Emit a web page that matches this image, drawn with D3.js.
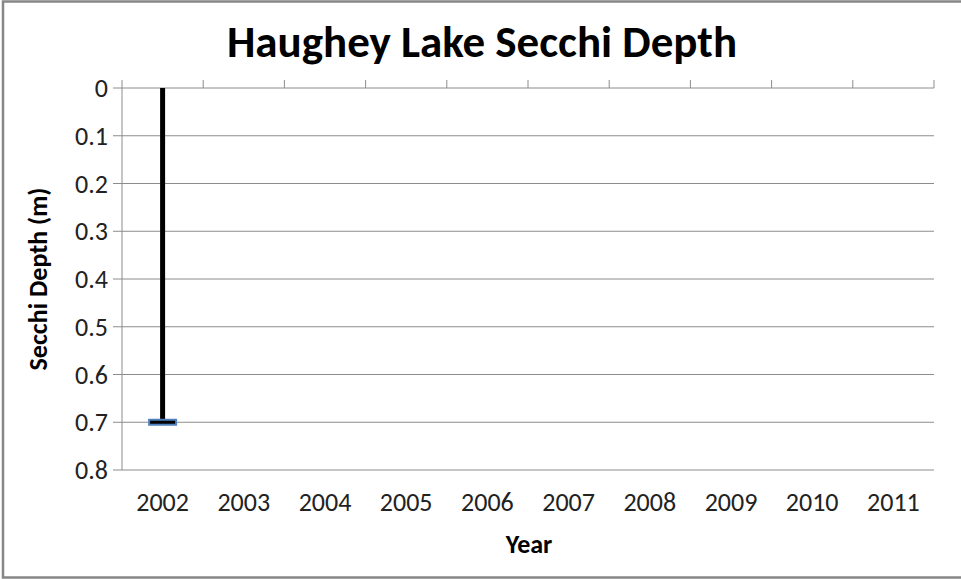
<!DOCTYPE html>
<html>
<head>
<meta charset="utf-8">
<script src="https://cdn.jsdelivr.net/npm/d3@7"></script>
<style>
  body { margin: 0; background: #fff; }
  text { font-family: Carlito, Calibri, Lato, "Open Sans", sans-serif; }
</style>
</head>
<body>
<div id="chart"></div>
<script>
const years = ['2002', '2003', '2004', '2005', '2006', '2007', '2008', '2009', '2010', '2011'];
const depthYears = ['2002'];
const depthValues = [0.7];
const yTicks = [0, 0.1, 0.2, 0.3, 0.4, 0.5, 0.6, 0.7, 0.8];

const W = 961, H = 579;
const margin = {top: 88, right: 27, bottom: 109, left: 122},
      width = W - margin.left - margin.right,
      height = H - margin.top - margin.bottom;

const svg = d3.select('#chart').append('svg')
    .attr('width', W)
    .attr('height', H);

// outer frame
svg.append('rect')
    .attr('x', 3).attr('y', 1.5)
    .attr('width', W + 10).attr('height', H - 3)
    .attr('fill', 'none')
    .attr('stroke', '#878787')
    .attr('stroke-width', 2.5);

svg.append('text')
    .attr('x', 482).attr('y', 57)
    .attr('text-anchor', 'middle')
    .style('font-size', '45px')
    .style('font-weight', 'bold')
    .text('Haughey Lake Secchi Depth');

const g = svg.append('g')
    .attr('transform', `translate(${margin.left}, ${margin.top})`);

const xScale = d3.scaleBand().domain(years).range([0, width]);
const yScale = d3.scaleLinear().domain([0, 0.8]).range([0, height]);

// gridlines
g.append('g')
    .selectAll('line')
    .data(yTicks)
    .join('line')
    .attr('x1', -9).attr('x2', width)
    .attr('y1', d => yScale(d)).attr('y2', d => yScale(d))
    .attr('stroke', '#8c8c8c')
    .attr('stroke-width', 1);

// y axis line
g.append('line')
    .attr('x1', 0).attr('x2', 0)
    .attr('y1', 0).attr('y2', height)
    .attr('stroke', '#8c8c8c');

// category ticks on the 0 line (pointing up)
const tickPos = years.map(d => xScale(d)).concat([width]);
g.append('g')
    .selectAll('line')
    .data(tickPos)
    .join('line')
    .attr('x1', d => d).attr('x2', d => d)
    .attr('y1', -8).attr('y2', 0)
    .attr('stroke', '#8c8c8c');

// y tick labels
g.append('g')
    .selectAll('text')
    .data(yTicks)
    .join('text')
    .attr('x', -14)
    .attr('y', d => yScale(d))
    .attr('dy', '0.35em')
    .attr('text-anchor', 'end')
    .style('font-size', '26px')
    .attr('fill', '#222')
    .text(d => d);

// x tick labels
g.append('g')
    .selectAll('text')
    .data(years)
    .join('text')
    .attr('x', d => xScale(d) + xScale.bandwidth() / 2)
    .attr('y', height + 41)
    .attr('text-anchor', 'middle')
    .style('font-size', '26px')
    .attr('fill', '#222')
    .text(d => d);

// axis titles
g.append('text')
    .attr('x', width / 2 + 1)
    .attr('y', height + 83)
    .attr('text-anchor', 'middle')
    .style('font-size', '26px')
    .style('font-weight', 'bold')
    .text('Year');

g.append('text')
    .attr('transform', `translate(-75, ${height / 2}) rotate(-90)`)
    .attr('text-anchor', 'middle')
    .style('font-size', '26px')
    .style('font-weight', 'bold')
    .text('Secchi Depth (m)');

// depth bar
const cx = d => xScale(d) + xScale.bandwidth() / 2;
g.append('g')
    .selectAll('rect')
    .data(depthYears)
    .join('rect')
    .attr('x', d => cx(d) - 2.5)
    .attr('y', yScale(0))
    .attr('width', 5)
    .attr('height', (d, i) => yScale(depthValues[i]))
    .attr('fill', '#000');

// marker at the measured depth
g.append('g')
    .selectAll('rect')
    .data(depthYears)
    .join('rect')
    .attr('x', d => cx(d) - 13.5)
    .attr('y', (d, i) => yScale(depthValues[i]) - 2.5)
    .attr('width', 27)
    .attr('height', 5)
    .attr('fill', '#000')
    .attr('stroke', '#4f81bd')
    .attr('stroke-width', 2);
</script>
</body>
</html>
